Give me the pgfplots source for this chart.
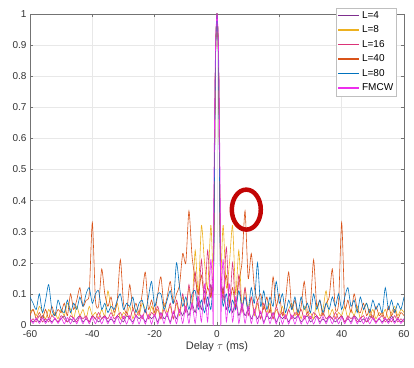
\documentclass[border=0pt]{standalone}
\usepackage{pgfplots}
\pgfplotsset{compat=1.18}
\usepackage{pgfplotstable}
\usepackage{fontspec}
\setmainfont{Liberation Sans}
\definecolor{cL4}{rgb}{0.494,0.184,0.556}
\definecolor{cL8}{rgb}{0.929,0.694,0.125}
\definecolor{cL16}{rgb}{0.86,0.20,0.47}
\definecolor{cL40}{rgb}{0.85,0.325,0.098}
\definecolor{cL80}{rgb}{0.0,0.447,0.741}
\definecolor{cFM}{rgb}{0.93,0.18,0.93}
\definecolor{ringred}{rgb}{0.76,0.02,0.02}
\pgfdeclareplotmark{ring}{\pgfpathellipse{\pgfpointorigin}{\pgfqpoint{14.5pt}{0pt}}{\pgfqpoint{0pt}{20pt}}\pgfusepathqstroke}
\pgfplotstableread{
x a b c d e f
-60 0.02 0.04 0.01 0.03 0.09 0.02
-59 0.01 0.05 0.02 0.05 0.07 0.005
-58 0.02 0.03 0.01 0.02 0.05 0.022
-57 0.01 0.06 0.03 0.04 0.10 0.005
-56 0.03 0.04 0.01 0.02 0.04 0.022
-55 0.01 0.02 0.02 0.05 0.08 0.005
-54 0.02 0.05 0.01 0.02 0.13 0.022
-53 0.01 0.03 0.03 0.06 0.05 0.005
-52 0.02 0.04 0.02 0.03 0.03 0.023
-51 0.01 0.02 0.01 0.05 0.08 0.005
-50 0.02 0.05 0.03 0.04 0.05 0.023
-49 0.03 0.03 0.02 0.07 0.04 0.004
-48 0.01 0.07 0.01 0.03 0.08 0.024
-47 0.02 0.05 0.03 0.10 0.04 0.004
-46 0.01 0.02 0.02 0.05 0.07 0.024
-45 0.02 0.06 0.01 0.08 0.05 0.004
-44 0.03 0.03 0.03 0.12 0.09 0.025
-43 0.01 0.05 0.02 0.06 0.06 0.004
-42 0.02 0.02 0.03 0.08 0.10 0.025
-41 0.01 0.06 0.01 0.10 0.12 0.004
-40 0.03 0.03 0.03 0.33 0.07 0.025
-39 0.02 0.04 0.02 0.08 0.10 0.004
-38 0.01 0.02 0.04 0.06 0.11 0.026
-37 0.02 0.05 0.02 0.18 0.05 0.004
-36 0.03 0.03 0.03 0.10 0.07 0.026
-35 0.01 0.11 0.02 0.06 0.04 0.004
-34 0.02 0.05 0.04 0.09 0.06 0.027
-33 0.01 0.03 0.02 0.04 0.05 0.004
-32 0.03 0.07 0.03 0.08 0.08 0.027
-31 0.02 0.02 0.04 0.21 0.10 0.003
-30 0.01 0.04 0.02 0.07 0.05 0.028
-29 0.03 0.03 0.04 0.04 0.07 0.003
-28 0.02 0.06 0.02 0.13 0.06 0.030
-27 0.01 0.02 0.05 0.05 0.09 0.003
-26 0.03 0.05 0.03 0.07 0.04 0.030
-25 0.02 0.03 0.04 0.04 0.07 0.003
-24 0.03 0.07 0.02 0.10 0.08 0.032
-23 0.01 0.05 0.05 0.17 0.04 0.003
-22 0.03 0.02 0.02 0.05 0.09 0.033
-21 0.02 0.06 0.04 0.08 0.14 0.003
-20 0.03 0.03 0.03 0.04 0.06 0.035
-19 0.01 0.05 0.06 0.10 0.10 0.003
-18 0.04 0.02 0.02 0.155 0.10 0.038
-17 0.02 0.07 0.05 0.06 0.05 0.004
-16 0.03 0.04 0.03 0.09 0.08 0.040
-15 0.01 0.06 0.07 0.14 0.11 0.004
-14 0.04 0.02 0.02 0.07 0.07 0.045
-13 0.02 0.07 0.08 0.10 0.20 0.004
-12 0.05 0.03 0.04 0.13 0.12 0.050
-11 0.03 0.09 0.10 0.23 0.06 0.005
-10 0.06 0.05 0.04 0.20 0.09 0.060
-9 0.03 0.12 0.13 0.367 0.05 0.005
-8 0.07 0.06 0.05 0.22 0.10 0.070
-7 0.04 0.24 0.17 0.15 0.11 0.005
-6 0.09 0.10 0.06 0.10 0.05 0.090
-5 0.05 0.32 0.21 0.16 0.08 0.010
-4 0.11 0.20 0.07 0.08 0.04 0.130
-3 0.06 0.12 0.24 0.12 0.09 0.010
-2 0.13 0.32 0.09 0.09 0.05 0.210
-1.5 0.10 0.22 0.14 0.12 0.10 0.12
-1.2 0.15 0.15 0.18 0.12 0.12 0.00
-1 0.30 0.28 0.30 0.26 0.24 0.45
-0.5 0.85 0.84 0.85 0.84 0.83 0.88
0 1.0 1.0 1.0 1.0 1.0 1.0
0.5 0.85 0.84 0.85 0.84 0.83 0.88
1 0.30 0.28 0.30 0.26 0.24 0.45
1.2 0.15 0.15 0.18 0.12 0.12 0.00
1.5 0.10 0.22 0.14 0.12 0.10 0.12
2 0.12 0.32 0.08 0.10 0.06 0.210
3 0.05 0.12 0.25 0.16 0.10 0.010
4 0.10 0.20 0.06 0.07 0.04 0.130
5 0.04 0.32 0.20 0.12 0.08 0.010
6 0.08 0.10 0.05 0.06 0.05 0.090
7 0.03 0.24 0.16 0.14 0.11 0.005
8 0.06 0.06 0.04 0.20 0.06 0.070
9 0.03 0.12 0.12 0.367 0.09 0.005
10 0.05 0.05 0.03 0.15 0.05 0.060
11 0.02 0.09 0.09 0.23 0.12 0.005
12 0.04 0.03 0.04 0.12 0.07 0.050
13 0.02 0.07 0.08 0.08 0.20 0.004
14 0.04 0.02 0.02 0.10 0.06 0.045
15 0.01 0.06 0.07 0.05 0.11 0.004
16 0.03 0.04 0.03 0.09 0.05 0.040
17 0.02 0.07 0.05 0.04 0.09 0.004
18 0.04 0.02 0.02 0.155 0.06 0.038
19 0.01 0.05 0.06 0.06 0.14 0.003
20 0.03 0.03 0.03 0.10 0.07 0.035
21 0.02 0.06 0.04 0.03 0.10 0.003
22 0.03 0.02 0.02 0.08 0.04 0.033
23 0.01 0.05 0.05 0.17 0.08 0.003
24 0.03 0.07 0.02 0.05 0.05 0.032
25 0.02 0.03 0.04 0.08 0.09 0.003
26 0.03 0.05 0.03 0.03 0.04 0.030
27 0.01 0.02 0.05 0.06 0.09 0.003
28 0.02 0.06 0.02 0.14 0.05 0.030
29 0.03 0.03 0.04 0.04 0.07 0.003
30 0.01 0.04 0.02 0.07 0.04 0.028
31 0.02 0.02 0.04 0.21 0.10 0.003
32 0.03 0.07 0.03 0.06 0.05 0.027
33 0.01 0.03 0.02 0.08 0.08 0.004
34 0.02 0.05 0.04 0.03 0.04 0.027
35 0.01 0.11 0.02 0.07 0.07 0.004
36 0.03 0.03 0.03 0.09 0.05 0.026
37 0.02 0.05 0.02 0.18 0.09 0.004
38 0.01 0.02 0.04 0.05 0.06 0.026
39 0.02 0.04 0.02 0.07 0.10 0.004
40 0.03 0.03 0.03 0.33 0.05 0.025
41 0.01 0.06 0.01 0.06 0.09 0.004
42 0.02 0.02 0.03 0.08 0.12 0.025
43 0.01 0.05 0.02 0.04 0.06 0.004
44 0.03 0.03 0.03 0.10 0.08 0.025
45 0.02 0.06 0.01 0.05 0.04 0.004
46 0.01 0.02 0.02 0.04 0.09 0.024
47 0.02 0.05 0.03 0.07 0.05 0.004
48 0.01 0.07 0.01 0.03 0.07 0.024
49 0.03 0.03 0.02 0.05 0.04 0.004
50 0.02 0.05 0.03 0.02 0.08 0.023
51 0.01 0.02 0.01 0.06 0.05 0.005
52 0.02 0.04 0.02 0.03 0.07 0.023
53 0.01 0.03 0.03 0.04 0.04 0.005
54 0.02 0.05 0.01 0.02 0.12 0.022
55 0.01 0.02 0.02 0.06 0.05 0.005
56 0.03 0.04 0.01 0.03 0.08 0.022
57 0.01 0.06 0.03 0.05 0.04 0.005
58 0.02 0.03 0.01 0.02 0.07 0.022
59 0.01 0.05 0.02 0.04 0.05 0.005
60 0.02 0.04 0.01 0.03 0.09 0.020
}\datatable
\begin{document}
\begin{tikzpicture}
\begin{axis}[
  name=ax,
  width=374pt, height=311pt, scale only axis,
  xmin=-60, xmax=60, ymin=0, ymax=1,
  xtick={-60,-40,-20,0,20,40,60},
  ytick={0,0.1,0.2,0.3,0.4,0.5,0.6,0.7,0.8,0.9,1},
  grid=major,
  major grid style={gray!18, line width=0.5pt},
  axis line style={black!55, line width=0.5pt},
  tick style={black!55, line width=0.5pt},
  major tick length=3pt,
  tick label style={font=\fontsize{10}{12}\selectfont, text=black!80},
  xticklabel style={yshift=-2pt},
  /pgf/number format/assume math mode=true,
  xlabel={Delay $\tau$ (ms)},
  xlabel style={font=\fontsize{11}{13}\selectfont, text=black!80, yshift=3pt},
  legend cell align=left,
  legend style={at={(rel axis cs:0.981,1.02)}, anchor=north east,
    draw=gray!50, fill=white, font=\fontsize{10}{12}\selectfont,
    inner sep=1.5pt, row sep=2pt},
  legend image code/.code={\draw[#1, line width=1.6pt] (0cm,0cm) -- (0.74cm,0cm);},
  ser/.style={line width=0.6pt, smooth, tension=0.4},
]
\addplot[color=cL4, draw=cL4, ser] table[x=x,y=a] {\datatable};
\addlegendentry{L=4}
\addplot[color=cL8, draw=cL8, ser] table[x=x,y=b] {\datatable};
\addlegendentry{L=8}
\addplot[color=cL16, draw=cL16, ser] table[x=x,y=c] {\datatable};
\addlegendentry{L=16}
\addplot[color=cL40, draw=cL40, ser] table[x=x,y=d] {\datatable};
\addlegendentry{L=40}
\addplot[color=cL80, draw=cL80, ser] table[x=x,y=e] {\datatable};
\addlegendentry{L=80}
\addplot[color=cFM, draw=cFM, ser] table[x=x,y=f] {\datatable};
\addlegendentry{FMCW}
\addplot[only marks, mark=ring, mark options={draw=ringred, line width=4.5pt}, forget plot] coordinates {(9.4,0.371)};
\end{axis}
\path ([xshift=-30pt,yshift=-42pt]ax.south west) rectangle ([xshift=10pt,yshift=14pt]ax.north east);
\end{tikzpicture}
\end{document}
